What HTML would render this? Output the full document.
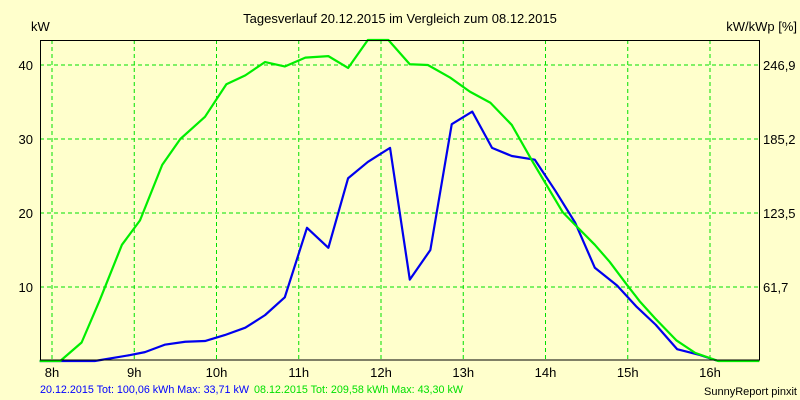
<!DOCTYPE html>
<html><head><meta charset="utf-8"><style>
html,body{margin:0;padding:0;background:#FFFFCC;}
svg{display:block;font-family:"Liberation Sans",sans-serif;}
</style></head><body>
<svg id="c" width="800" height="400">
<rect x="0" y="0" width="800" height="400" fill="#FFFFCC"/>
<text x="400" y="23" font-size="13" text-anchor="middle" fill="#000">Tagesverlauf 20.12.2015 im Vergleich zum 08.12.2015</text>
<text x="31" y="31" font-size="13" fill="#000">kW</text>
<text x="797" y="31" font-size="13" text-anchor="end" fill="#000">kW/kWp [%]</text>
<g id="grid"></g>
<g id="series"></g>
<rect x="40.5" y="40.5" width="719" height="319.5" fill="none" stroke="#000" stroke-width="1"/>
<g id="labels"></g>
<text x="40" y="393" font-size="11" fill="#0000FF" textLength="209" lengthAdjust="spacingAndGlyphs">20.12.2015 Tot: 100,06 kWh Max: 33,71 kW</text>
<text x="254" y="393" font-size="11" fill="#00E000" textLength="209" lengthAdjust="spacingAndGlyphs">08.12.2015 Tot: 209,58 kWh Max: 43,30 kW</text>
<text x="797" y="395" font-size="11" text-anchor="end" fill="#000">SunnyReport pinxit</text>
</svg>
<script>
const xTicks=[8,9,10,11,12,13,14,15,16];
const yTicks=[10,20,30,40];
const yRightLabels=["61,7","123,5","185,2","246,9"];
const greenTimes=[7.85,8.10,8.36,8.58,8.85,9.07,9.34,9.56,9.86,10.12,10.35,10.59,10.83,11.08,11.36,11.60,11.84,12.09,12.35,12.57,12.84,13.08,13.33,13.59,13.84,14.21,14.36,14.60,14.78,14.99,15.15,15.33,15.59,15.82,16.10,16.60];
const greenValues=[0,0,2.5,8.2,15.7,19,26.5,30,33,37.4,38.6,40.4,39.8,41,41.2,39.6,43.4,43.4,40.1,40,38.3,36.4,34.9,31.9,27,20.1,18.4,15.7,13.4,10.3,8,5.8,2.8,1.1,0,0];
const blueTimes=[7.85,8.52,8.95,9.13,9.37,9.62,9.86,10.10,10.35,10.59,10.83,11.10,11.36,11.60,11.84,12.11,12.35,12.60,12.86,13.11,13.35,13.59,13.87,14.12,14.36,14.60,14.87,15.11,15.34,15.60,15.88,16.10];
const blueValues=[0,0,0.8,1.2,2.2,2.6,2.7,3.5,4.5,6.2,8.6,18,15.3,24.7,26.9,28.8,11,15,32,33.7,28.8,27.7,27.2,23,18.7,12.6,10.2,7.3,4.9,1.6,0.8,0];
const NS="http://www.w3.org/2000/svg";
const X=h=>52+(h-8)*82.25;
const Y=v=>Math.max(40,361-v*7.4);
const grid=document.getElementById('grid'),labels=document.getElementById('labels'),series=document.getElementById('series');
function mk(tag,attrs,parent){const e=document.createElementNS(NS,tag);for(const k in attrs)e.setAttribute(k,attrs[k]);parent.appendChild(e);return e;}
xTicks.forEach(h=>{
  const l=mk('line',{x1:X(h),x2:X(h),y1:40,y2:360,stroke:'#00E000','stroke-dasharray':'4,3'},grid);
  
  
  const t=mk('text',{x:X(h),y:377,'font-size':13,'text-anchor':'middle'},labels);
  t.textContent=h+'h';
  
  
});
yTicks.forEach((v,i)=>{
  const l=mk('line',{x1:40,x2:759,y1:Y(v),y2:Y(v),stroke:'#00E000','stroke-dasharray':'4,3'},grid);
  
  
  const t=mk('text',{x:33,y:Y(v)+5,'font-size':13,'text-anchor':'end'},labels);
  t.textContent=v;
  
  
  const r=mk('text',{x:763,y:Y(v)+5,'font-size':13},labels);
  r.textContent=yRightLabels[i];
  
  
});
function line(ts,vs,color,name){
  const p=mk('polyline',{points:ts.map((t,i)=>X(t)+','+Y(vs[i])).join(' '),fill:'none',stroke:color,'stroke-width':2.2,'stroke-linejoin':'round'},series);
  
  
}
line(blueTimes,blueValues,'#0000EE','series-20-12-2015');
line(greenTimes,greenValues,'#00EE00','series-08-12-2015');
</script>
</body></html>
